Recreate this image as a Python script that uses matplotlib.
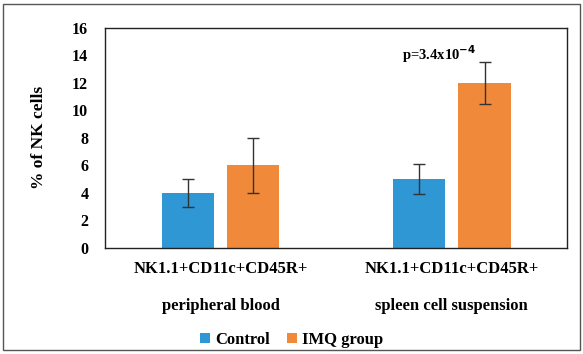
import matplotlib
matplotlib.use("Agg")
import matplotlib.pyplot as plt
from matplotlib.patches import Rectangle
import numpy as np

categories = ["NK1.1+CD11c+CD45R+\nperipheral blood", "NK1.1+CD11c+CD45R+\nspleen cell suspension"]
series_names = ["Control", "IMQ group"]
control = [4.0, 5.0]
control_err = [1.05, 1.1]
imq = [6.0, 12.0]
imq_err = [2.0, 1.55]
yticks = [0, 2, 4, 6, 8, 10, 12, 14, 16]
pval = "p=3.4x10$^{-4}$"

blue = "#2f97d4"
orange = "#f0893a"

plt.rcParams['font.family'] = ['Liberation Serif', 'DejaVu Serif']
plt.rcParams['font.weight'] = 'bold'
plt.rcParams['mathtext.default'] = 'bf'

fig = plt.figure(figsize=(5.83, 3.54), dpi=100)
fig.patches.append(Rectangle((0.006, 0.012), 0.988, 0.976, transform=fig.transFigure,
                             fill=False, edgecolor="#555555", linewidth=1.0))
ax = fig.add_axes([0.180, 0.2994, 0.793, 0.622])

x = np.arange(len(categories))
w = 0.225
off = 0.142
ax.bar(x - off, control, w, color=blue, label=series_names[0],
       yerr=control_err, error_kw=dict(ecolor="#333333", capsize=4, elinewidth=1, capthick=1))
ax.bar(x + off, imq, w, color=orange, label=series_names[1],
       yerr=imq_err, error_kw=dict(ecolor="#333333", capsize=4, elinewidth=1, capthick=1))

ax.text(x[1] + off - 0.035, imq[1] + imq_err[1] - 0.25, pval, ha="right", va="bottom",
        fontsize=10.5, fontweight="bold")

ax.set_xlim(-0.5, 1.5)
ax.set_ylim(0, 16)
ax.set_yticks(yticks)
ax.set_yticklabels([str(t) for t in yticks], fontsize=11.5, fontweight="bold")
ax.set_xticks(x)
ax.set_xticklabels(categories, fontsize=12, fontweight="bold", linespacing=2.75)
ax.tick_params(length=0, pad=9)
ax.tick_params(axis='y', pad=12)
for s in ax.spines.values():
    s.set_color("#222222")
    s.set_linewidth(1.0)
ax.set_ylabel("% of NK cells", fontsize=12.5, fontweight="bold", labelpad=18)

fig.legend(loc="center", bbox_to_anchor=(0.5, 0.04), ncol=2, frameon=False,
           handlelength=0.6, handleheight=0.6, handletextpad=0.3,
           columnspacing=1.0, prop=dict(weight="bold", size=12))

fig.savefig("out.png", dpi=100)
